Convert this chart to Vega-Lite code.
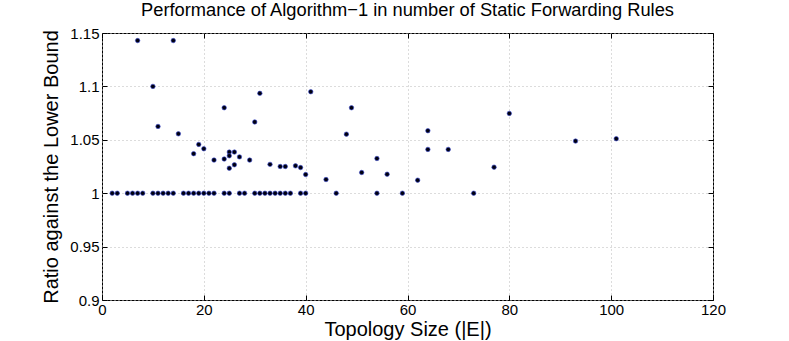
{
  "$schema": "https://vega.github.io/schema/vega-lite/v6.json",
  "autosize": "none",
  "width": 611,
  "height": 267,
  "padding": {"left": 102, "top": 33, "right": 76, "bottom": 41},
  "background": "white",
  "config": {
    "font": "Liberation Sans",
    "view": {"stroke": "#000000", "strokeWidth": 1},
    "axis": {"domain": false, "tickColor": "#000000", "tickSize": -5, "labelColor": "#000000", "titleColor": "#000000", "labelFont": "Liberation Sans", "titleFont": "Liberation Sans", "titleFontWeight": "normal", "labelFontSize": 15, "titleFontSize": 20, "gridColor": "#b8b8b8", "gridDash": [1, 3], "gridWidth": 1}
  },
  "title": {"text": "Performance of Algorithm\u22121 in number of Static Forwarding Rules", "fontSize": 18.3, "fontWeight": "normal", "font": "Liberation Sans", "color": "#000000", "offset": 6, "anchor": "middle"},
  "data": {"values": [
    {"x": 2, "y": 1}, {"x": 3, "y": 1}, {"x": 5, "y": 1}, {"x": 6, "y": 1}, {"x": 7, "y": 1}, {"x": 8, "y": 1},
    {"x": 10, "y": 1}, {"x": 11, "y": 1}, {"x": 12, "y": 1}, {"x": 13, "y": 1}, {"x": 14, "y": 1},
    {"x": 16, "y": 1}, {"x": 17, "y": 1}, {"x": 18, "y": 1}, {"x": 19, "y": 1}, {"x": 20, "y": 1}, {"x": 21, "y": 1}, {"x": 22, "y": 1},
    {"x": 24, "y": 1}, {"x": 25, "y": 1}, {"x": 27, "y": 1}, {"x": 28, "y": 1},
    {"x": 30, "y": 1}, {"x": 31, "y": 1}, {"x": 32, "y": 1}, {"x": 33, "y": 1}, {"x": 34, "y": 1}, {"x": 35, "y": 1}, {"x": 36, "y": 1}, {"x": 37, "y": 1},
    {"x": 39, "y": 1}, {"x": 40, "y": 1}, {"x": 46, "y": 1}, {"x": 54, "y": 1}, {"x": 59, "y": 1}, {"x": 73, "y": 1},
    {"x": 7, "y": 1.1429}, {"x": 14, "y": 1.1429}, {"x": 10, "y": 1.1}, {"x": 11, "y": 1.0625}, {"x": 15, "y": 1.0556},
    {"x": 18, "y": 1.037}, {"x": 19, "y": 1.0457}, {"x": 20, "y": 1.0416}, {"x": 22, "y": 1.031},
    {"x": 24, "y": 1.08}, {"x": 24, "y": 1.032}, {"x": 25, "y": 1.0385}, {"x": 25, "y": 1.035}, {"x": 25, "y": 1.0234},
    {"x": 26, "y": 1.0385}, {"x": 26, "y": 1.0266}, {"x": 27, "y": 1.034}, {"x": 29, "y": 1.031},
    {"x": 30, "y": 1.0667}, {"x": 31, "y": 1.0935}, {"x": 33, "y": 1.027}, {"x": 35, "y": 1.025}, {"x": 36, "y": 1.025},
    {"x": 38, "y": 1.0256}, {"x": 39, "y": 1.024}, {"x": 40, "y": 1.0175}, {"x": 41, "y": 1.095},
    {"x": 44, "y": 1.0128}, {"x": 48, "y": 1.0553}, {"x": 49, "y": 1.08}, {"x": 51, "y": 1.0194},
    {"x": 54, "y": 1.0325}, {"x": 56, "y": 1.0178}, {"x": 62, "y": 1.0122},
    {"x": 64, "y": 1.0585}, {"x": 64, "y": 1.041}, {"x": 68, "y": 1.041}, {"x": 77, "y": 1.0244},
    {"x": 80, "y": 1.0747}, {"x": 93, "y": 1.0488}, {"x": 101, "y": 1.051}
  ]},
  "layer": [
    {
      "mark": {"type": "point", "filled": true, "shape": "circle", "size": 20, "fill": "#000010", "stroke": "#3a4cd6", "strokeWidth": 0.6, "opacity": 1},
      "encoding": {
        "x": {"field": "x", "type": "quantitative", "scale": {"domain": [0, 120], "nice": false, "zero": false},
              "axis": {"values": [0, 20, 40, 60, 80, 100, 120], "title": "Topology Size (|E|)", "titlePadding": 2, "labelPadding": 7, "grid": true, "labelFlush": false, "labelOverlap": false}},
        "y": {"field": "y", "type": "quantitative", "scale": {"domain": [0.9, 1.15], "nice": false, "zero": false},
              "axis": {"values": [0.9, 0.95, 1, 1.05, 1.1, 1.15], "format": "~g", "title": "Ratio against the Lower Bound", "titlePadding": 8, "labelPadding": 8, "grid": true, "labelFlush": false, "labelOverlap": false}}
      }
    },
    {
      "mark": {"type": "point", "opacity": 0},
      "encoding": {
        "x": {"field": "x", "type": "quantitative", "scale": {"domain": [0, 120], "nice": false, "zero": false},
              "axis": {"orient": "top", "values": [0, 20, 40, 60, 80, 100, 120], "labels": false, "title": null, "grid": false}},
        "y": {"field": "y", "type": "quantitative", "scale": {"domain": [0.9, 1.15], "nice": false, "zero": false},
              "axis": {"orient": "right", "values": [0.9, 0.95, 1, 1.05, 1.1, 1.15], "labels": false, "title": null, "grid": false}}
      }
    }
  ],
  "resolve": {"axis": {"x": "independent", "y": "independent"}}
}
